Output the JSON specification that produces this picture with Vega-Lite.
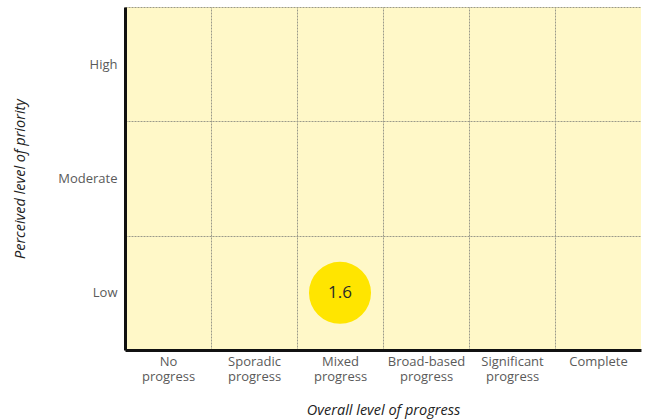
{
  "$schema": "https://vega.github.io/schema/vega-lite/v6.json",
  "width": 516,
  "height": 343,
  "autosize": {"type": "none"},
  "padding": {"left": 125, "top": 7, "right": 6, "bottom": 69},
  "background": "#ffffff",
  "data": {
    "values": [
      {"progress": "Mixed progress", "priority": "Low", "score": 1.6}
    ]
  },
  "encoding": {
    "x": {
      "field": "progress",
      "type": "nominal",
      "scale": {
        "domain": ["No progress", "Sporadic progress", "Mixed progress", "Broad-based progress", "Significant progress", "Complete"],
        "paddingInner": 0,
        "paddingOuter": 0
      },
      "axis": {
        "title": "Overall level of progress",
        "tickBand": "extent",
        "gridOpacity": {"condition": {"test": "datum.value === 'Complete'", "value": 0}, "value": 1},
        "labelAngle": 0,
        "labelExpr": "split(datum.label, ' ')",
        "labelLineHeight": 15,
        "labelPadding": 5,
        "titlePadding": 20
      }
    },
    "y": {
      "field": "priority",
      "type": "nominal",
      "scale": {
        "domain": ["High", "Moderate", "Low"],
        "paddingInner": 0,
        "paddingOuter": 0
      },
      "axis": {
        "title": "Perceived level of priority",
        "tickBand": "extent",
        "gridOpacity": {"condition": {"test": "datum.index === 1", "value": 0}, "value": 1},
        "labelPadding": 8,
        "titlePadding": 30
      }
    }
  },
  "layer": [
    {
      "mark": {"type": "circle", "color": "#ffe500", "opacity": 1, "size": 3850}
    },
    {
      "mark": {"type": "text", "font": "Open Sans", "fontSize": 17, "color": "#2a2a2a"},
      "encoding": {"text": {"field": "score", "type": "quantitative", "format": ".1f"}}
    }
  ],
  "config": {
    "view": {"fill": "#fff8c8", "stroke": null},
    "axis": {
      "domainColor": "#111111",
      "domainWidth": 3,
      "ticks": false,
      "grid": true,
      "gridColor": "#9a9a8a",
      "gridDash": [2, 1],
      "gridWidth": 1,
      "labelFont": "Open Sans",
      "labelFontSize": 13,
      "labelColor": "#5a5a5a",
      "titleFont": "Open Sans",
      "titleFontSize": 14.5,
      "titleFontStyle": "italic",
      "titleFontWeight": "normal",
      "titleColor": "#222222"
    }
  }
}
